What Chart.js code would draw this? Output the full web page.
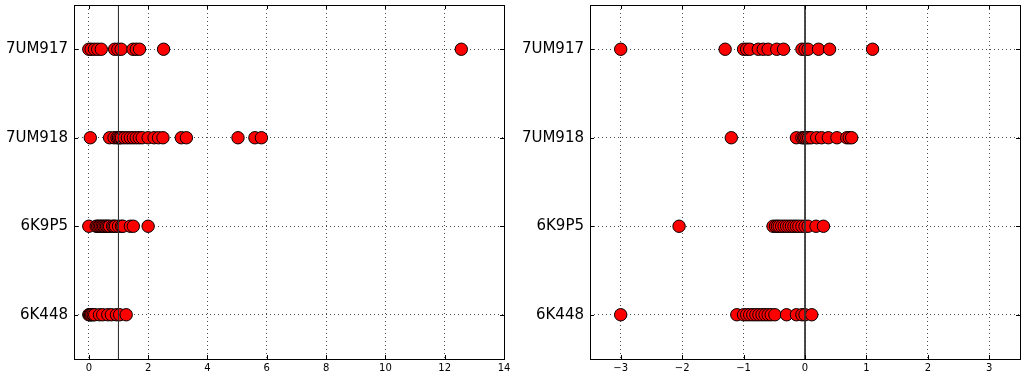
<!DOCTYPE html>
<html>
<head>
<meta charset="utf-8">
<script src="https://cdn.jsdelivr.net/npm/chart.js@4"></script>
<style>
html,body{margin:0;padding:0;background:#fff;}
.box{position:absolute;top:0;width:511px;height:377px;}
</style>
</head>
<body>
<div class="box" style="left:0"><canvas id="c1" width="511" height="377"></canvas></div>
<div class="box" style="left:511px"><canvas id="c2" width="511" height="377"></canvas></div>
<script>
const categories = ["7UM917", "7UM918", "6K9P5", "6K448"];

// Left panel values (one list per category)
const left7UM917 = [0.0, 0.08, 0.19, 0.3, 0.42, 0.87, 0.98, 1.09, 1.49, 1.6, 1.71, 2.52, 12.56];
const left7UM918 = [0.05, 0.7, 0.85, 0.95, 1.0, 1.05, 1.1, 1.2, 1.3, 1.4, 1.5, 1.6, 1.7, 1.8, 2.0, 2.2, 2.35, 2.5, 3.12, 3.29, 5.03, 5.6, 5.82];
const left6K9P5 = [0.0, 0.25, 0.3, 0.35, 0.4, 0.45, 0.5, 0.55, 0.6, 0.65, 0.7, 0.8, 0.85, 0.9, 1.0, 1.1, 1.15, 1.4, 1.5, 2.0];
const left6K448 = [0.0, 0.03, 0.06, 0.1, 0.15, 0.2, 0.36, 0.47, 0.64, 0.76, 0.93, 1.04, 1.26];

// Right panel values
const right7UM917 = [-3.0, -1.3, -1.0, -0.95, -0.9, -0.76, -0.68, -0.6, -0.46, -0.35, -0.05, 0.0, 0.05, 0.22, 0.4, 1.1];
const right7UM918 = [-1.2, -0.14, -0.05, -0.02, 0.0, 0.03, 0.06, 0.1, 0.19, 0.27, 0.38, 0.52, 0.68, 0.72, 0.76];
const right6K9P5 = [-2.05, -0.52, -0.48, -0.45, -0.42, -0.38, -0.34, -0.3, -0.26, -0.22, -0.18, -0.14, -0.1, -0.05, 0.0, 0.05, 0.18, 0.3];
const right6K448 = [-3.0, -1.11, -1.0, -0.95, -0.9, -0.85, -0.8, -0.75, -0.7, -0.65, -0.6, -0.55, -0.49, -0.3, -0.14, -0.05, 0.0, 0.11];

const leftXTicks = [0, 2, 4, 6, 8, 10, 12, 14];
const rightXTicks = [-3, -2, -1, 0, 1, 2, 3];
const leftRefLine = 1;
const rightRefLine = 0;

const FONT = "'DejaVu Sans', sans-serif";

const framePlugin = {
  id: 'frame',
  afterDatasetsDraw(chart) {
    const {ctx, chartArea: a, scales} = chart;
    ctx.save();
    ctx.strokeStyle = '#000';
    ctx.lineWidth = 1;
    ctx.beginPath();
    const L = 4;
    scales.x.ticks.forEach(t => {
      const px = Math.round(scales.x.getPixelForValue(t.value)) + 0.5;
      ctx.moveTo(px, a.bottom); ctx.lineTo(px, a.bottom - L);
      ctx.moveTo(px, a.top); ctx.lineTo(px, a.top + L);
    });
    scales.y.ticks.forEach(t => {
      const py = Math.round(scales.y.getPixelForValue(t.value)) + 0.5;
      ctx.moveTo(a.left, py); ctx.lineTo(a.left + L, py);
      ctx.moveTo(a.right, py); ctx.lineTo(a.right - L, py);
    });
    ctx.stroke();
    ctx.strokeRect(Math.round(a.left) + 0.5, Math.round(a.top) + 0.5, Math.round(a.right - a.left), Math.round(a.bottom - a.top));
    ctx.restore();
  }
};

function build(id, lists, xmin, xmax, xticks, refX, yWidth, padRight, fmt) {
  const datasets = [];
  lists.forEach((vals, ci) => {
    datasets.push({
      type: 'scatter',
      data: vals.map(v => ({x: v, y: ci})),
      backgroundColor: '#ff0000',
      borderColor: '#000',
      borderWidth: 1,
      pointRadius: 6.2,
      pointHoverRadius: 6.2,
      order: 2
    });
  });
  datasets.push({
    type: 'line',
    data: [{x: refX, y: -0.5}, {x: refX, y: 3.5}],
    borderColor: '#333',
    borderWidth: 1,
    pointRadius: 0,
    order: 1
  });
  new Chart(document.getElementById(id), {
    type: 'scatter',
    data: {datasets},
    options: {
      responsive: false,
      animation: false,
      events: [],
      layout: {autoPadding: false, padding: {top: 5, right: padRight, left: 0, bottom: 0}},
      plugins: {legend: {display: false}, tooltip: {enabled: false}},
      scales: {
        x: {
          type: 'linear', min: xmin, max: xmax,
          afterBuildTicks: s => { s.ticks = xticks.map(v => ({value: v})); },
          afterFit: s => { s.height = 18; s.paddingLeft = 0; s.paddingRight = 0; },
          ticks: {font: {family: FONT, size: 10}, color: '#000', padding: 3, maxRotation: 0, callback: fmt},
          grid: {color: '#000', lineWidth: 0.7, drawTicks: false},
          border: {display: false, dash: [1, 3]}
        },
        y: {
          type: 'linear', min: -0.5, max: 3.5, reverse: true,
          afterBuildTicks: s => { s.ticks = categories.map((c, i) => ({value: i})); },
          afterFit: s => { s.width = yWidth; s.paddingTop = 0; s.paddingBottom = 0; },
          ticks: {font: {family: FONT, size: 15}, color: '#000', padding: 6, callback: v => categories[v]},
          grid: {color: '#000', lineWidth: 0.7, drawTicks: false},
          border: {display: false, dash: [1, 3]}
        }
      }
    },
    plugins: [framePlugin]
  });
}

build('c1', [left7UM917, left7UM918, left6K9P5, left6K448], -0.5, 14, leftXTicks, leftRefLine, 74, 7, v => String(v));
build('c2', [right7UM917, right7UM918, right6K9P5, right6K448], -3.5, 3.5, rightXTicks, rightRefLine, 79, 2, v => (v < 0 ? '\u2212' + Math.abs(v) : String(v)));
</script>
</body>
</html>
